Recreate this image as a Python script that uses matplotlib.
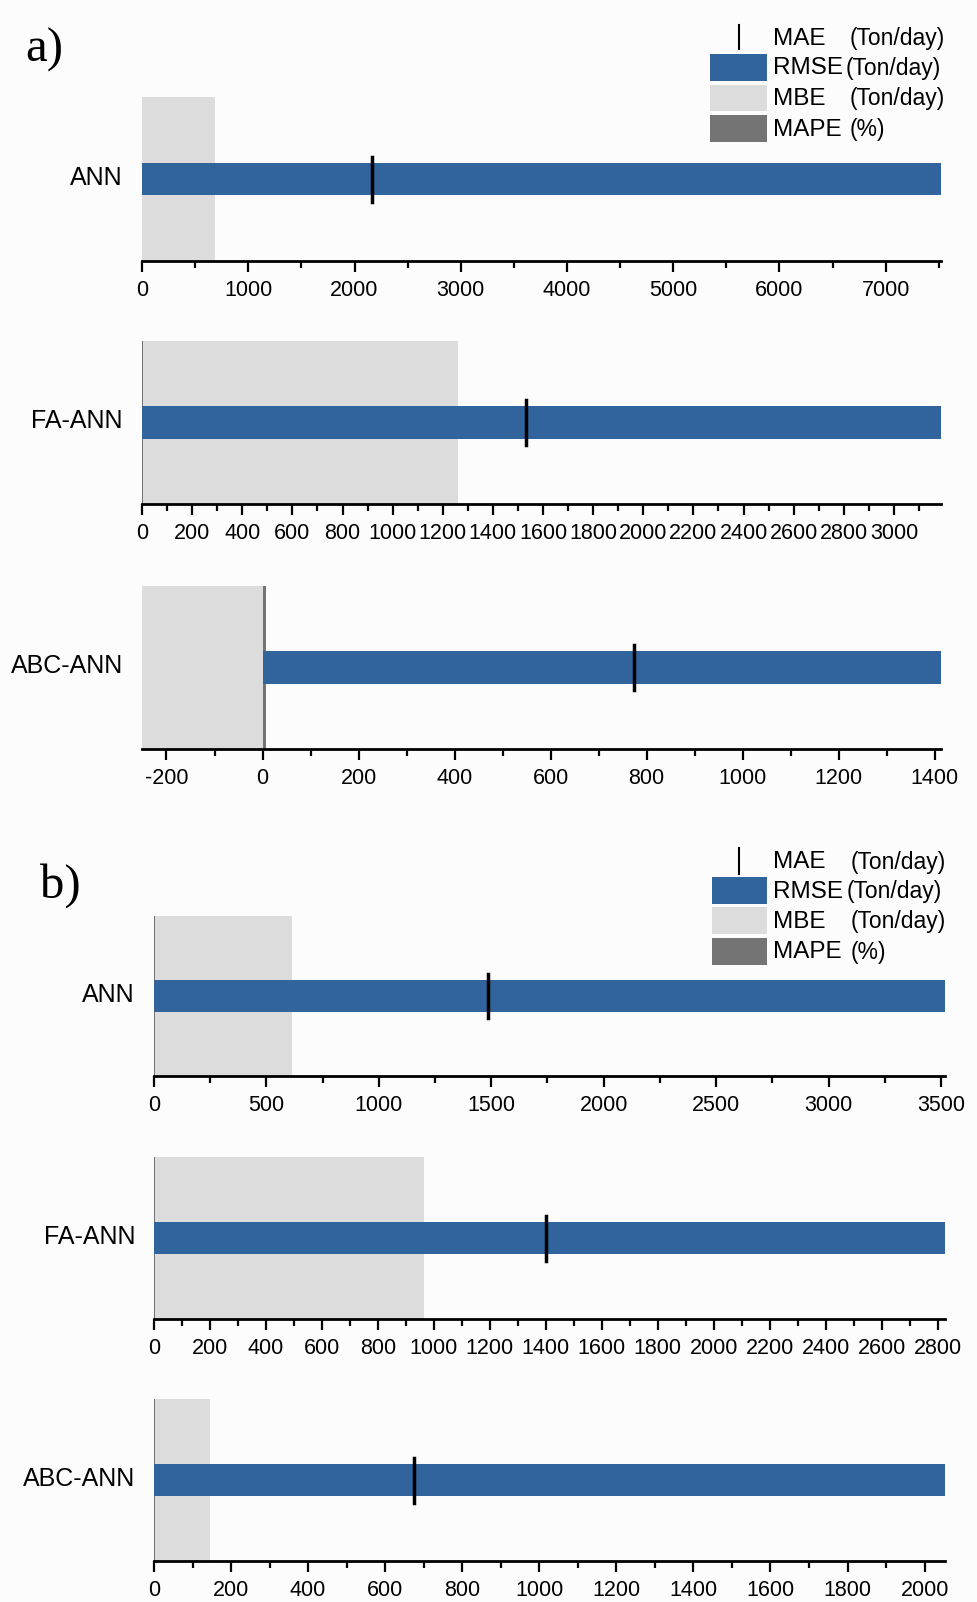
import numpy as np
import matplotlib.pyplot as plt
from matplotlib.patches import Rectangle
from matplotlib.lines import Line2D
from matplotlib.ticker import MultipleLocator

models = ['ANN', 'FA-ANN', 'ABC-ANN']

# panel a)
rmse_a = [7520, 3188, 1413]
mae_a = [2163, 1533, 774]
mbe_a = [683, 1260, -251]
mape_a = [4, 5, 7]

# panel b)
rmse_b = [3518, 2826, 2053]
mae_b = [1486, 1402, 674]
mbe_b = [614, 964, 146]
mape_b = [3, 4, 3]

major_a = [1000, 200, 200]
major_b = [500, 200, 200]

BLUE = '#31639c'
LGRAY = '#dcdcdc'
DGRAY = '#747474'
BG = '#fcfcfc'

W, H = 978, 1602
plt.rcParams['font.family'] = ['Liberation Sans', 'DejaVu Sans']
plt.rcParams['axes.unicode_minus'] = False

fig = plt.figure(figsize=(W/100, H/100), dpi=100, facecolor=BG)

def px(x0, y0, x1, y1):
	# pixel box -> figure fraction rect
	return [x0/W, 1 - y1/H, (x1-x0)/W, (y1-y0)/H]

def bullet(box, name, rmse, mae, mbe, mape, major, labelx):
	ax = fig.add_axes(px(*box))
	ax.set_facecolor(BG)
	lo = min(0, mbe)
	# MBE background band
	ax.barh(0.5, mbe, left=0, height=1.0, color=LGRAY, zorder=1)
	# MAPE
	ax.barh(0.5, mape, left=0, height=1.0, color=DGRAY, zorder=2)
	# RMSE bar
	ax.barh(0.5, rmse, left=0, height=0.2, color=BLUE, zorder=3)
	# MAE marker
	ax.plot([mae, mae], [0.36, 0.635], color='black', lw=2.5, zorder=4)
	ax.set_xlim(lo, rmse)
	ax.set_ylim(0, 1)
	for s in ['left', 'right', 'top']:
		ax.spines[s].set_visible(False)
	ax.spines['bottom'].set_linewidth(2)
	ax.set_yticks([])
	ax.xaxis.set_major_locator(MultipleLocator(major))
	ax.xaxis.set_minor_locator(MultipleLocator(major/2))
	ax.tick_params(axis='x', which='major', length=8, width=1.6, labelsize=15.5, pad=6)
	ax.tick_params(axis='x', which='minor', length=5, width=1.6)
	fig.text(labelx/W, 1 - ((box[1]+box[3])/2 - 1)/H, name, ha='right', va='center', fontsize=18)
	return ax

boxes_a = [(142, 97, 941, 261), (142, 341, 941, 504), (142, 586, 941, 749)]
boxes_b = [(154, 916, 945, 1076), (154, 1157, 945, 1319), (154, 1399, 945, 1561)]

for i in range(3):
	bullet(boxes_a[i], models[i], rmse_a[i], mae_a[i], mbe_a[i], mape_a[i], major_a[i], 123)
	bullet(boxes_b[i], models[i], rmse_b[i], mae_b[i], mbe_b[i], mape_b[i], major_b[i], 135)

def legend(sx0, sx1, maex, mae_y, rows, tx, ux):
	fig.add_artist(Line2D([maex/W, maex/W], [1 - mae_y[0]/H, 1 - mae_y[1]/H],
		color='black', lw=1.5, transform=fig.transFigure))
	cols = [BLUE, LGRAY, DGRAY]
	for (y0, y1), c in zip(rows[1:], cols):
		fig.add_artist(Rectangle((sx0/W, 1 - y1/H), (sx1-sx0)/W, (y1-y0)/H,
			facecolor=c, edgecolor='none', transform=fig.transFigure))
	names = ['MAE', 'RMSE', 'MBE', 'MAPE']
	units = ['(Ton/day)', '(Ton/day)', '(Ton/day)', '(%)']
	for k, (y0, y1) in enumerate(rows):
		yc = 1 - ((y0 + y1)/2 + 1)/H
		fig.text(tx/W, yc, names[k], ha='left', va='center', fontsize=17.5)
		fig.text(ux[k]/W, yc, units[k], ha='left', va='center', fontsize=16.5)

legend(710, 767, 739, (25, 49), [(25, 51), (54, 81), (85, 111), (115, 142)], 773, [850, 846, 850, 850])
legend(712, 767, 739, (848, 874), [(848, 874), (877, 904), (907, 934), (938, 965)], 773, [851, 847, 851, 851])

fig.text(25/W, 1 - 50/H, 'a)', ha='left', va='center', fontsize=35, family=['Liberation Serif', 'DejaVu Serif'])
fig.text(40/W, 1 - 886/H, 'b)', ha='left', va='center', fontsize=35, family=['Liberation Serif', 'DejaVu Serif'])

fig.savefig('out.png', dpi=100, facecolor=BG)
